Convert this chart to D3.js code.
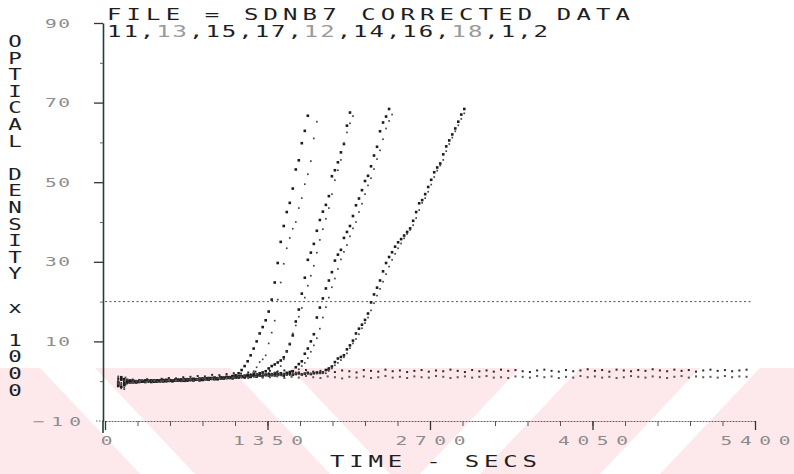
<!DOCTYPE html>
<html>
<head>
<meta charset="utf-8">
<script src="https://cdnjs.cloudflare.com/ajax/libs/d3/7.8.5/d3.min.js"></script>
<style>
  html, body { margin: 0; padding: 0; background: #fff; }
  svg { display: block; }
</style>
</head>
<body>
<svg id="chart" width="794" height="474"></svg>
<script>
// ---------------- DATA ----------------
const titleLine1 = "FILE = SDNB7  CORRECTED DATA";
const titleLine2Parts = [["11,", false], ["13", true], [",15,17,", false], ["12", true], [",14,16,", false], ["18", true], [",1,2", false]];
const yAxisTitle = ["O","P","T","I","C","A","L"," ","D","E","N","S","I","T","Y"," ","x"," ","1","0","0","0"];
const xAxisTitle = "TIME - SECS";
const xTickLabels = [0, 1350, 2700, 4050, 5400];
const xMinorTicks = [0,270,540,810,1080,1350,1620,1890,2160,2430,2700,2970,3240,3510,3780,4050,4320,4590,4860,5130,5400];
const yTickLabels = [90, 70, 50, 30, 10, -10];
const yMinorTicks = [80, 60, 40, 20, 0];
const thresholdOD = 20;

// sampling of the kinetic reads (seconds)
const riseStart = 110, riseStep = 25;
const flatStart = 110, flatStep = 60;

// wells 11..18 : lag phase then rise (OD x 1000)
const s11Base = [-1.2,0.4,-0.6,-0.3,-0.2,-0.1,0.0,-0.2,0.1,-0.1,0.0,0.2,-0.1,0.1,0.2,0.0,0.3,0.1,0.2,0.4,0.2,0.3,0.5,0.3,0.4,0.6,0.4,0.5,0.7,0.6,0.8,0.6,0.9,0.7,1.0,0.8,1.1,1.0,1.3,1.5];
const s11Rise = [2.0,2.8,3.8,5.0,6.5,8.2,10.0,12.0,13.6,15.3,17.5,20.5,24.8,29.7,35.0,39.0,42.5,44.8,48.4,53.2,55.5,59.8,62.9,66.7];
const s12Base = [0.8,-1.8,0.2,-0.4,-0.1,-0.3,0.1,-0.2,0.0,0.1,-0.1,0.0,0.2,0.1,-0.1,0.2,0.0,0.3,0.2,0.1,0.3,0.4,0.2,0.4,0.5,0.3,0.6,0.4,0.5,0.7,0.5,0.8,0.6,0.9,0.7,0.8,1.0,0.9,1.1,1.0,1.2,1.3,1.4,1.6];
const s12Rise = [1.8,2.5,3.5,4.8,5.5,6.5,9.5,12.2,15.2,20.5,24.8,29.5,33.4,36.0,38.3,40.0,43.5,46.0,49.5,52.0,55.3,61.0,65.2];
const s13Base = [-0.8,1.0,-0.2,0.3,-0.3,0.0,-0.2,0.1,-0.1,0.0,0.1,-0.2,0.0,0.2,0.1,0.0,0.2,0.3,0.1,0.2,0.4,0.3,0.2,0.5,0.4,0.3,0.5,0.6,0.4,0.7,0.5,0.8,0.6,0.7,0.9,0.8,1.0,0.9,1.2,1.0,1.3,1.1,1.4,1.6,1.5,1.9,1.7,2.0,2.2];
const s13Rise = [2.5,3.2,3.8,4.2,4.7,5.2,6.0,7.5,9.3,11.5,15.0,18.0,22.0,26.0,30.5,32.3,34.5,37.8,40.5,42.6,44.3,46.5,51.5,53.0,55.0,57.5,59.6,64.2,67.5];
const s14Base = [0.3,-0.9,-2.0,0.2,-0.2,0.1,-0.3,0.0,0.1,-0.1,0.0,0.2,-0.1,0.1,0.0,0.3,0.1,0.2,0.0,0.3,0.2,0.4,0.3,0.1,0.4,0.5,0.3,0.6,0.4,0.5,0.7,0.6,0.8,0.5,0.9,0.7,1.0,0.8,1.1,0.9,1.2,1.0,1.3,1.4,1.2,1.5,1.6,1.4,1.8,1.7,2.0,1.9,2.2];
const s14Rise = [2.5,3.8,5.5,7.4,9.5,12.0,14.0,16.2,18.4,21.0,24.0,26.5,29.0,32.3,35.5,38.2,40.8,43.5,47.0,50.5,53.0,55.6,59.8,62.5,64.8,66.6];
const s15Base = [-0.5,0.6,-1.0,0.0,0.2,-0.3,-0.1,0.1,0.0,-0.2,0.1,0.0,0.2,-0.1,0.1,0.3,0.0,0.2,0.1,0.3,0.2,0.4,0.1,0.3,0.5,0.2,0.4,0.6,0.3,0.5,0.7,0.6,0.8,0.5,0.7,0.9,0.8,1.0,0.7,1.1,0.9,1.2,1.0,1.3,1.1,1.4,1.2,1.5,1.3,1.6,1.8,1.5,1.9,1.7,2.0,1.8,2.1,2.3];
const s15Rise = [2.5,3.5,4.3,5.0,6.9,8.2,10.0,11.8,16.0,18.5,20.8,23.3,25.3,27.4,30.3,31.8,33.0,36.0,37.5,39.0,41.5,44.2,45.9,48.0,50.3,51.6,54.0,56.7,58.9,62.8,65.0,66.5,68.4];
const s16Base = [1.2,-0.4,0.0,-0.6,0.3,-0.1,0.0,-0.2,0.2,0.0,-0.1,0.1,0.2,0.0,0.3,0.1,-0.1,0.2,0.3,0.0,0.4,0.2,0.3,0.5,0.2,0.4,0.3,0.6,0.5,0.4,0.7,0.5,0.8,0.6,0.9,0.7,0.8,1.0,0.9,1.1,1.0,1.2,0.9,1.3,1.1,1.4,1.2,1.5,1.3,1.4,1.6,1.5,1.7,1.4,1.8,1.6,1.9,1.7,2.0];
const s16Rise = [2.2,3.0,3.8,4.6,5.8,7.4,9.0,10.8,13.2,16.0,18.6,21.0,23.6,25.8,28.2,30.6,32.5,34.2,36.4,38.4,40.0,42.5,44.6,47.0,49.2,51.0,53.3,55.8,58.0,60.8,63.5,65.4,67.0];
const s17Base = [-0.3,-1.4,0.5,-0.2,0.0,0.1,-0.3,0.0,-0.1,0.2,0.0,0.1,-0.1,0.2,0.0,0.1,0.3,0.1,0.0,0.2,0.3,0.1,0.4,0.2,0.3,0.5,0.4,0.2,0.5,0.6,0.4,0.7,0.5,0.6,0.8,0.7,0.9,0.8,1.0,0.9,1.1,1.2,1.0,1.3,1.1,1.4,1.2,1.5,1.3,1.6,1.4,1.7,1.5,1.8,1.6,1.4,1.7,1.9,1.6,1.8,2.0,1.7,1.9,2.1,1.8,2.0,2.2,2.1];
const s17Rise = [2.2,2.8,3.2,3.7,4.8,5.7,6.1,6.5,8.0,9.0,10.2,12.0,13.2,14.2,15.4,17.0,19.8,21.8,23.5,25.3,27.6,29.7,31.2,32.4,33.8,34.9,35.7,36.6,37.5,38.4,40.3,42.5,44.7,45.5,47.0,48.8,50.6,52.5,53.7,54.7,57.0,59.0,60.5,62.0,63.5,65.2,67.0,68.4];
const s18Base = [0.1,-0.7,-1.6,0.4,-0.4,0.1,-0.1,0.0,0.2,-0.2,0.1,0.0,0.2,0.0,-0.1,0.1,0.2,0.0,0.3,0.1,0.2,0.0,0.3,0.4,0.2,0.3,0.5,0.3,0.6,0.4,0.5,0.7,0.5,0.8,0.6,0.7,0.9,0.8,1.0,0.8,1.1,0.9,1.2,1.0,1.3,1.1,1.2,1.4,1.3,1.5,1.4,1.6,1.3,1.7,1.5,1.8,1.6,1.5,1.7,1.9,1.8,1.6,2.0,1.8,1.9,2.1,1.9,2.0,2.0];
const s18Rise = [2.0,2.6,3.2,4.0,4.6,5.3,6.0,7.0,8.3,9.5,10.6,11.8,13.3,14.6,16.0,17.8,19.6,21.5,23.2,25.0,26.9,28.8,30.5,32.0,33.4,34.6,35.9,37.0,38.0,39.2,41.0,43.0,44.8,46.0,47.6,49.4,51.3,52.9,54.2,55.6,57.8,59.6,61.2,62.8,64.3,65.9,67.3];

// wells 1, 2 : blanks, read over the whole run
const s1Flat = [0.6,-0.8,0.4,0.2,0.5,0.3,0.6,0.8,0.7,1.0,1.1,1.3,1.2,1.6,1.5,1.8,2.0,1.9,2.2,2.4,2.1,2.6,2.3,2.7,2.5,2.2,2.8,2.4,2.6,2.9,2.3,2.7,2.5,2.2,2.8,2.6,2.4,2.9,2.5,2.7,2.3,2.6,2.8,2.4,2.7,2.5,2.9,2.6,2.3,2.8,2.5,2.7,2.4,2.9,2.6,2.8,2.5,2.3,2.7,2.9,2.6,2.4,2.8,2.5,2.7,3.0,2.6,2.8,2.4,2.9,2.7,2.5,2.8,2.6,3.0,2.7,2.5,2.9,2.6,2.8,2.4,2.7,2.9,2.6,2.8,2.5,2.7,2.9];
const s2Flat = [-0.6,0.9,-0.3,0.0,-0.2,0.1,0.0,0.3,0.2,0.4,0.5,0.4,0.7,0.6,0.8,0.7,0.9,1.0,0.8,1.1,0.9,1.0,1.2,0.8,1.1,0.9,1.3,1.0,0.8,1.2,1.0,0.7,1.1,0.9,1.2,0.8,1.0,1.3,0.9,1.1,0.8,1.2,1.0,0.9,1.3,1.1,0.8,1.0,1.2,0.9,1.1,1.3,0.9,1.0,0.8,1.2,1.1,0.9,1.3,1.0,1.2,0.8,1.1,0.9,1.3,1.0,1.2,0.9,1.1,0.8,1.0,1.3,1.1,0.9,1.2,1.0,0.8,1.1,1.3,0.9,1.2,1.0,1.1,0.9,1.3,1.0,1.2,1.1];

// ---------------- BUILD ----------------
const risingSeries = [
  {id:"11", vals: s11Base.concat(s11Rise), big:true},
  {id:"12", vals: s12Base.concat(s12Rise), big:false},
  {id:"13", vals: s13Base.concat(s13Rise), big:true},
  {id:"14", vals: s14Base.concat(s14Rise), big:false},
  {id:"15", vals: s15Base.concat(s15Rise), big:true},
  {id:"16", vals: s16Base.concat(s16Rise), big:false},
  {id:"17", vals: s17Base.concat(s17Rise), big:true},
  {id:"18", vals: s18Base.concat(s18Rise), big:false}
];
const flatSeries = [
  {id:"1", vals: s1Flat},
  {id:"2", vals: s2Flat}
];

const svg = d3.select("#chart");
const W = 794, H = 474;
svg.append("rect").attr("width", W).attr("height", H).attr("fill", "#fff");

// scan watermark (pink diagonal bands at the bottom)
const wm = svg.append("g");
wm.append("rect").attr("x", 0).attr("y", 368).attr("width", W).attr("height", H - 368).attr("fill", "#fde8ec");
const whiteBands = [
  [[40,368],[95,368],[195,474],[140,474]],
  [[230,368],[290,368],[390,474],[330,474]],
  [[520,368],[580,368],[480,474],[420,474]],
  [[700,368],[760,368],[660,474],[600,474]]
];
wm.selectAll("polygon").data(whiteBands).join("polygon")
  .attr("points", d => d.map(p => p.join(",")).join(" "))
  .attr("fill", "#fff");

const x = d3.scaleLinear().domain([0, 5400]).range([105, 755]);
const y = d3.scaleLinear().domain([-10, 90]).range([421, 23]);
const axisX = 103;
const SX = 1.5; // plotter glyphs are wide

const mono = "'DejaVu Sans Mono', 'Liberation Mono', monospace";

// --- x axis
const gxMinor = svg.append("g").attr("transform", `translate(0,${y(-10)})`)
  .call(d3.axisBottom(x).tickValues(xMinorTicks).tickSize(5).tickSizeOuter(0).tickFormat(""));
gxMinor.select(".domain").attr("stroke", "#666").attr("stroke-width", 1).attr("stroke-dasharray", "2,1");
gxMinor.selectAll(".tick line").attr("stroke", "#555").attr("stroke-width", 1);
svg.append("line").attr("x1", 96).attr("x2", x(0)).attr("y1", y(-10)).attr("y2", y(-10))
  .attr("stroke", "#666").attr("stroke-dasharray", "1.5,1.5");

const gxMajor = svg.append("g").attr("transform", `translate(0,${y(-10)})`)
  .call(d3.axisBottom(x).tickValues(xTickLabels).tickSize(9).tickSizeOuter(0).tickFormat(d3.format("d")));
gxMajor.select(".domain").remove();
gxMajor.selectAll(".tick line").attr("stroke", "#333").attr("stroke-width", 1.3);
gxMajor.selectAll(".tick text")
  .attr("font-family", mono).attr("font-size", 13).attr("fill", "#8c8c8c")
  .attr("y", 24).attr("dy", 0)
  .attr("transform", `scale(${SX},1)`)
  .attr("text-anchor", d => d === 0 ? "middle" : "start")
  .attr("x", d => d === 0 ? 1 / SX : -35 / SX)
  .attr("textLength", d => d === 0 ? null : 70 / SX)
  .attr("lengthAdjust", "spacing");

// --- y axis
const gyMinor = svg.append("g").attr("transform", `translate(${axisX},0)`)
  .call(d3.axisLeft(y).tickValues(yMinorTicks).tickSize(3).tickSizeOuter(0).tickFormat(""));
gyMinor.select(".domain").attr("stroke", "#223c3c").attr("stroke-width", 1.6);
gyMinor.selectAll(".tick line").attr("stroke", "#666");
svg.append("line").attr("x1", axisX).attr("x2", axisX).attr("y1", y(-10)).attr("y2", 433)
  .attr("stroke", "#223c3c").attr("stroke-width", 1.6);

const gyMajor = svg.append("g").attr("transform", `translate(${axisX},0)`)
  .call(d3.axisLeft(y).tickValues(yTickLabels).tickSize(9).tickSizeOuter(0).tickFormat(d3.format("d")));
gyMajor.select(".domain").remove();
gyMajor.selectAll(".tick line").attr("stroke", d => d === -10 ? "none" : "#333").attr("stroke-width", 1.3);
gyMajor.selectAll(".tick text")
  .attr("font-family", mono).attr("font-size", 13).attr("fill", "#8c8c8c")
  .attr("transform", `scale(${SX},1)`)
  .attr("text-anchor", "end")
  .attr("x", d => d === -10 ? -22 / SX : -33 / SX)
  .attr("textLength", d => d === -10 ? 48 / SX : 25 / SX)
  .attr("lengthAdjust", "spacing");

// --- threshold line
svg.append("line")
  .attr("x1", x(0)).attr("x2", x(5400) - 3)
  .attr("y1", y(thresholdOD)).attr("y2", y(thresholdOD))
  .attr("stroke", "#555").attr("stroke-width", 1).attr("stroke-dasharray", "2,2.5");

// --- data dots
const dots = svg.append("g");
risingSeries.forEach(s => {
  const sz = s.big ? 2.6 : 1.7;
  dots.append("g").selectAll("rect")
    .data(s.vals.map((v, i) => ({t: riseStart + i * riseStep, v})))
    .join("rect")
    .attr("x", d => x(d.t) - sz / 2).attr("y", d => y(d.v) - sz / 2)
    .attr("width", sz).attr("height", sz)
    .attr("fill", s.big ? "#1c1c1c" : "#454545");
});
flatSeries.forEach((s, k) => {
  const sz = 2;
  dots.append("g").selectAll("rect")
    .data(s.vals.map((v, i) => ({t: flatStart + i * flatStep, v})))
    .join("rect")
    .attr("x", d => x(d.t) - sz / 2).attr("y", d => y(d.v) - sz / 2)
    .attr("width", sz).attr("height", sz)
    .attr("fill", k === 0 ? "#2a2a2a" : "#555");
});

// --- titles (wide plotter lettering)
function wideText(px, py, width, size) {
  return svg.append("text")
    .attr("transform", `translate(${px},${py}) scale(${SX},1)`)
    .attr("font-family", mono).attr("font-size", size).attr("fill", "#1e1e1e")
    .attr("textLength", width / SX).attr("lengthAdjust", "spacing");
}
wideText(107, 20, 523, 16).text(titleLine1);
const t2 = wideText(107, 37, 441, 16);
titleLine2Parts.forEach(([s, faint]) => t2.append("tspan").attr("fill", faint ? "#9a9a9a" : "#1e1e1e").text(s));
wideText(330, 467, 207, 16).text(xAxisTitle);

// vertical stacked y-axis title
const yTitleStep = 16.6;
svg.append("g").selectAll("text")
  .data(yAxisTitle)
  .join("text")
  .attr("transform", (d, i) => `translate(15,${47 + i * yTitleStep}) scale(${SX},1)`)
  .attr("text-anchor", "middle")
  .attr("font-family", mono).attr("font-size", 15).attr("fill", "#1e1e1e")
  .text(d => d);
</script>
</body>
</html>
